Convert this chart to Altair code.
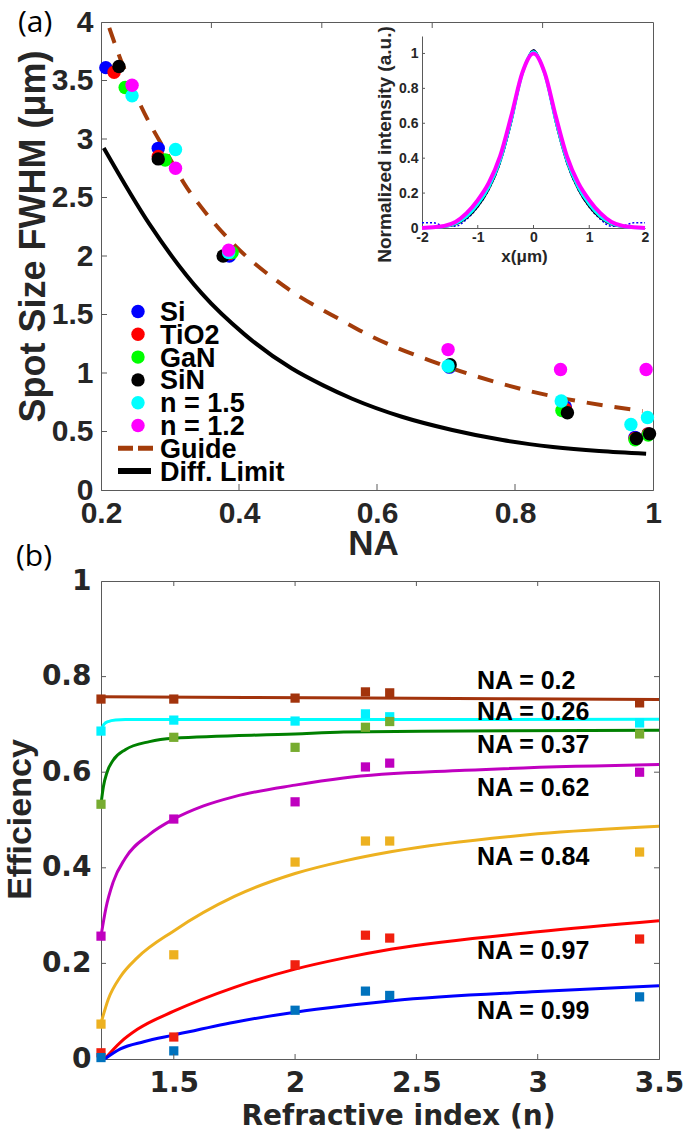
import altair as alt
import pandas as pd

# ---------------- Panel (a) data ----------------
materials = ["Si", "TiO2", "GaN", "SiN", "n = 1.5", "n = 1.2"]
mat_colors = ["#0000FF", "#FF0000", "#00FF00", "#000000", "#00FFFF", "#FF00FF"]

na_si = [0.207, 0.283, 0.386, 0.705, 0.873, 0.974, 0.993]
fwhm_si = [3.61, 2.92, 2.00, 1.05, 0.71, 0.45, 0.48]
na_tio2 = [0.219, 0.283, 0.386, 0.705, 0.873, 0.974, 0.993]
fwhm_tio2 = [3.57, 2.85, 2.02, 1.06, 0.69, 0.44, 0.48]
na_gan = [0.235, 0.293, 0.390, 0.705, 0.868, 0.974, 0.993]
fwhm_gan = [3.44, 2.82, 2.03, 1.06, 0.68, 0.43, 0.47]
na_sin = [0.226, 0.283, 0.377, 0.706, 0.876, 0.976, 0.995]
fwhm_sin = [3.62, 2.83, 2.00, 1.07, 0.66, 0.44, 0.48]
na_n15 = [0.245, 0.308, 0.385, 0.703, 0.867, 0.968, 0.992]
fwhm_n15 = [3.37, 2.91, 2.03, 1.06, 0.76, 0.56, 0.62]
na_n12 = [0.245, 0.308, 0.385, 0.703, 0.866, 0.990]
fwhm_n12 = [3.46, 2.75, 2.05, 1.20, 1.03, 1.03]

guide_na = [0.212, 0.229, 0.258, 0.306, 0.321, 0.345, 0.389, 0.466, 0.553, 0.585, 0.680, 0.821, 0.985]
guide_fwhm = [3.95, 3.67, 3.28, 2.77, 2.615, 2.42, 2.12, 1.74, 1.436, 1.333, 1.10, 0.846, 0.675]

diff_na = [0.204, 0.270, 0.346, 0.408, 0.476, 0.522, 0.564, 0.636, 0.709, 0.782, 0.855, 0.922, 0.990]
diff_fwhm = [2.923, 2.274, 1.680, 1.330, 1.040, 0.894, 0.780, 0.626, 0.513, 0.427, 0.368, 0.333, 0.310]

legend_labels = ["Si", "TiO2", "GaN", "SiN", "n = 1.5", "n = 1.2", "Guide", "Diff. Limit"]

# top-edge tick marks of panel (a), as placed in the figure
top_ticks_a = [0.36, 0.52, 0.68, 0.84]

# inset (normalized intensity profiles)
inset_x = [-2.0, -1.8, -1.6, -1.4, -1.2, -1.0, -0.8, -0.6, -0.4, -0.2, 0.0,
           0.2, 0.4, 0.6, 0.8, 1.0, 1.2, 1.4, 1.6, 1.8, 2.0]
inset_blue = [0.030, 0.030, 0.012, 0.010, 0.050, 0.120, 0.220, 0.370, 0.600, 0.880, 1.020,
              0.880, 0.600, 0.370, 0.220, 0.120, 0.050, 0.010, 0.012, 0.030, 0.030]
inset_black = [0.000, 0.000, 0.005, 0.018, 0.055, 0.120, 0.220, 0.370, 0.600, 0.880, 1.020,
               0.880, 0.600, 0.370, 0.220, 0.120, 0.055, 0.018, 0.005, 0.000, 0.000]
inset_cyan = [0.000, 0.003, 0.008, 0.025, 0.065, 0.135, 0.235, 0.385, 0.615, 0.885, 1.010,
              0.885, 0.615, 0.385, 0.235, 0.135, 0.065, 0.025, 0.008, 0.003, 0.000]
inset_mag = [0.000, 0.004, 0.012, 0.035, 0.085, 0.160, 0.260, 0.410, 0.640, 0.890, 1.000,
             0.890, 0.640, 0.410, 0.260, 0.160, 0.085, 0.035, 0.012, 0.004, 0.000]

# ---------------- Panel (b) data ----------------
n_sim = [1.2, 1.5, 2.0, 2.29, 2.39, 3.42]
na_names = ["NA = 0.2", "NA = 0.26", "NA = 0.37", "NA = 0.62", "NA = 0.84", "NA = 0.97", "NA = 0.99"]
eff_sim = [
    [0.753, 0.753, 0.755, 0.768, 0.766, 0.745],
    [0.686, 0.709, 0.707, 0.722, 0.716, 0.703],
    [0.533, 0.673, 0.652, 0.694, 0.706, 0.680],
    [0.257, 0.502, 0.538, 0.611, 0.619, 0.600],
    [0.073, 0.218, 0.412, 0.456, 0.456, 0.433],
    [0.013, 0.046, 0.197, 0.259, 0.253, 0.251],
    [0.003, 0.017, 0.102, 0.142, 0.133, 0.130],
]
fit_n = [
    [1.2, 2.3, 3.5],
    [1.2, 1.212, 1.23, 1.26, 1.3, 1.5, 2.0, 3.5],
    [1.2, 1.21, 1.225, 1.25, 1.3, 1.4, 1.5, 2.0, 2.2, 2.7, 3.5],
    [1.2, 1.22, 1.25, 1.3, 1.4, 1.5, 1.62, 1.75, 2.0, 2.2, 2.7, 3.5],
    [1.2, 1.23, 1.28, 1.35, 1.5, 1.75, 2.0, 2.2, 2.4, 3.0, 3.5],
    [1.215, 1.28, 1.35, 1.5, 1.75, 2.0, 2.2, 2.4, 3.0, 3.5],
    [1.215, 1.28, 1.376, 1.5, 1.75, 2.0, 2.2, 2.4, 3.0, 3.5],
]
fit_eff = [
    [0.758, 0.755, 0.752],
    [0.686, 0.700, 0.706, 0.709, 0.710, 0.710, 0.710, 0.711],
    [0.533, 0.570, 0.600, 0.625, 0.647, 0.664, 0.671, 0.680, 0.684, 0.686, 0.688],
    [0.257, 0.315, 0.370, 0.420, 0.470, 0.502, 0.529, 0.549, 0.573, 0.588, 0.604, 0.616],
    [0.075, 0.125, 0.172, 0.212, 0.268, 0.340, 0.388, 0.414, 0.434, 0.471, 0.487],
    [0.000, 0.035, 0.062, 0.100, 0.150, 0.188, 0.211, 0.230, 0.266, 0.289],
    [0.000, 0.021, 0.036, 0.050, 0.077, 0.098, 0.111, 0.122, 0.141, 0.153],
]
label_n = [2.75, 2.75, 2.75, 2.75, 2.75, 2.75, 2.75]
label_eff = [0.791, 0.726, 0.656, 0.566, 0.422, 0.226, 0.101]

line_colors = ["#A2330C", "#00FFFF", "#008000", "#C000C0", "#EDB120", "#FF0000", "#0000FF"]
sq_colors = ["#A2330C", "#00F2FF", "#77AC30", "#BF00BF", "#EDB120", "#F0200F", "#0072BD"]

# ---------------- styling ----------------
FONT = "Liberation Sans"
DJ = "DejaVu Sans"
TXT = "#262626"
AXC = "#5a5a5a"
WA, HA = 552, 468
WB, HB = 558, 478
LBL = "'' + datum.value"

# ---------------- Panel (a) ----------------
xA = alt.X("NA:Q", scale=alt.Scale(domain=[0.2, 1], nice=False, zero=False),
           axis=alt.Axis(orient="bottom", values=[0.2, 0.4, 0.6, 0.8, 1], labelExpr=LBL,
                         ticks=False, tickSize=0, grid=False, domainColor=AXC,
                         labelFont=FONT, labelFontWeight="bold", labelFontSize=30,
                         labelColor=TXT, labelPadding=8, labelFlush=False, labelOverlap=False,
                         title="NA", titleFont=FONT, titleFontWeight="bold", titleFontSize=35,
                         titleColor=TXT, titleX=272, titleY=64, titleBaseline="alphabetic",
                         titleAlign="center"))
yA = alt.Y("FWHM:Q", scale=alt.Scale(domain=[0, 4], nice=False),
           axis=alt.Axis(orient="left", values=[0, 0.5, 1, 1.5, 2, 2.5, 3, 3.5, 4], labelExpr=LBL,
                         ticks=False, tickSize=0, grid=False, domainColor=AXC,
                         labelFont=FONT, labelFontWeight="bold", labelFontSize=30,
                         labelColor=TXT, labelPadding=8, labelFlush=False, labelOverlap=False,
                         title="Spot Size FWHM (μm)", titleFont=FONT, titleFontWeight="bold",
                         titleFontSize=36, titleColor=TXT, titleX=-57, titleY=214,
                         titleAngle=270, titleBaseline="alphabetic", titleAlign="center"))

rows = []
for m, xs, ys in zip(materials, [na_si, na_tio2, na_gan, na_sin, na_n15, na_n12],
                     [fwhm_si, fwhm_tio2, fwhm_gan, fwhm_sin, fwhm_n15, fwhm_n12]):
    for a, b in zip(xs, ys):
        rows.append({"mat": m, "NA": a, "FWHM": b})
df_pts = pd.DataFrame(rows)

diff_line = alt.Chart(pd.DataFrame({"NA": diff_na, "FWHM": diff_fwhm})).mark_line(
    color="#000000", strokeWidth=4, interpolate="monotone").encode(x=xA, y=yA)
guide_line = alt.Chart(pd.DataFrame({"NA": guide_na, "FWHM": guide_fwhm})).mark_line(
    color="#A33C0A", strokeWidth=4, strokeDash=[16, 12], interpolate="monotone").encode(x=xA, y=yA)
points = alt.Chart(df_pts).mark_circle(size=180, opacity=1).encode(
    x=xA, y=yA,
    color=alt.Color("mat:N", scale=alt.Scale(domain=materials, range=mat_colors), legend=None))

tickA_left = alt.Chart(pd.DataFrame({"FWHM": [0.5, 1, 1.5, 2, 2.5, 3, 3.5]})).mark_rule(
    color=AXC, strokeWidth=1).encode(y=yA, x=alt.value(0), x2=alt.value(6))
tickA_bottom = alt.Chart(pd.DataFrame({"NA": [0.4, 0.6, 0.8]})).mark_rule(
    color=AXC, strokeWidth=1).encode(x=xA, y=alt.value(HA), y2=alt.value(HA - 6))
tickA_top = alt.Chart(pd.DataFrame({"NA": top_ticks_a})).mark_rule(
    color=AXC, strokeWidth=1).encode(x=xA, y=alt.value(0), y2=alt.value(6))

legend_layers = []
for i, lab in enumerate(legend_labels):
    ry = 289.5 + 22.8 * i
    one = pd.DataFrame({"t": [lab]})
    if i < 6:
        legend_layers.append(alt.Chart(one).mark_circle(size=180, opacity=1, color=mat_colors[i]).encode(
            x=alt.value(37), y=alt.value(ry)))
    elif i == 6:
        legend_layers.append(alt.Chart(one).mark_rule(color="#A33C0A", strokeWidth=5, strokeDash=[15, 5]).encode(
            x=alt.value(17), x2=alt.value(52), y=alt.value(ry)))
    else:
        legend_layers.append(alt.Chart(one).mark_rule(color="#000000", strokeWidth=6).encode(
            x=alt.value(17), x2=alt.value(50), y=alt.value(ry)))
    legend_layers.append(alt.Chart(one).mark_text(
        align="left", baseline="middle", font=FONT, fontWeight="bold", fontSize=27, color="#000000").encode(
        x=alt.value(59), y=alt.value(ry + 1.5), text="t:N"))

label_a = alt.Chart(pd.DataFrame({"t": ["(a)"]})).mark_text(
    align="left", baseline="middle", font="Open Sans", fontSize=30, color="#000000").encode(
    x=alt.value(-83), y=alt.value(1), text="t:N")

mainA = alt.layer(diff_line, guide_line, points, tickA_left, tickA_bottom, tickA_top,
                  *legend_layers, label_a)

# inset
ix = alt.X("x:Q", scale=alt.Scale(domain=[-2, 2], range=[321, 544], nice=False, zero=False),
           axis=alt.Axis(orient="bottom", offset=-262, values=[-2, -1, 0, 1, 2], labelExpr=LBL,
                         ticks=False, tickSize=0, grid=False, domainColor=AXC,
                         labelFont=FONT, labelFontWeight="bold", labelFontSize=14, labelColor=TXT,
                         labelPadding=2, labelFlush=False, labelOverlap=False,
                         title="x(μm)", titleFont=FONT, titleFontWeight="bold", titleFontSize=17,
                         titleColor=TXT, titleX=423, titleY=33, titleBaseline="alphabetic",
                         titleAlign="center"))
iy = alt.Y("y:Q", scale=alt.Scale(domain=[0, 1.1], range=[206, 14], nice=False),
           axis=alt.Axis(orient="left", offset=-321, values=[0, 0.2, 0.4, 0.6, 0.8, 1], labelExpr=LBL,
                         ticks=False, tickSize=0, grid=False, domainColor=AXC,
                         labelFont=FONT, labelFontWeight="bold", labelFontSize=14, labelColor=TXT,
                         labelPadding=4, labelFlush=False, labelOverlap=False,
                         title="Normalized intensity (a.u.)", titleFont=FONT, titleFontWeight="bold",
                         titleFontSize=19, titleColor=TXT, titleX=-32, titleY=122, titleAngle=270,
                         titleBaseline="alphabetic", titleAlign="center"))

inset_layers = []
for ys, col, w, dash in [(inset_blue, "#0000FF", 1.5, [2, 2]), (inset_black, "#000000", 1.5, None),
                         (inset_cyan, "#00FFFF", 3, None), (inset_mag, "#FF00FF", 4, None)]:
    kw = dict(color=col, strokeWidth=w, interpolate="monotone")
    if dash:
        kw["strokeDash"] = dash
    inset_layers.append(alt.Chart(pd.DataFrame({"x": inset_x, "y": ys})).mark_line(**kw).encode(x=ix, y=iy))
inset_layers.append(alt.Chart(pd.DataFrame({"y": [0.2, 0.4, 0.6, 0.8, 1]})).mark_rule(color=AXC).encode(
    y=iy, x=alt.value(321), x2=alt.value(324)))
inset_layers.append(alt.Chart(pd.DataFrame({"x": [-1, 0, 1]})).mark_rule(color=AXC).encode(
    x=ix, y=alt.value(206), y2=alt.value(203)))
insetA = alt.layer(*inset_layers)

panelA = alt.layer(mainA, insetA).resolve_scale(x="independent", y="independent").properties(
    width=WA, height=HA)

# ---------------- Panel (b) ----------------
xB = alt.X("n:Q", scale=alt.Scale(domain=[1.2, 3.5], nice=False, zero=False),
           axis=alt.Axis(orient="bottom", values=[1.5, 2, 2.5, 3, 3.5], labelExpr=LBL,
                         ticks=False, tickSize=0, grid=False, domainColor=AXC,
                         labelFont=DJ, labelFontWeight="bold", labelFontSize=28, labelColor=TXT,
                         labelPadding=10, labelFlush=False, labelOverlap=False,
                         title="Refractive index (n)", titleFont=DJ, titleFontWeight="bold",
                         titleFontSize=28, titleColor=TXT, titleX=297, titleY=65,
                         titleBaseline="alphabetic", titleAlign="center"))
yB = alt.Y("eff:Q", scale=alt.Scale(domain=[0, 1], nice=False),
           axis=alt.Axis(orient="left", values=[0, 0.2, 0.4, 0.6, 0.8, 1], labelExpr=LBL,
                         ticks=False, tickSize=0, grid=False, domainColor=AXC,
                         labelFont=DJ, labelFontWeight="bold", labelFontSize=28, labelColor=TXT,
                         labelPadding=10, labelFlush=False, labelOverlap=False,
                         title="Efficiency", titleFont=FONT, titleFontWeight="bold",
                         titleFontSize=34, titleColor=TXT, titleX=-71, titleY=238, titleAngle=270,
                         titleBaseline="alphabetic", titleAlign="center"))

line_layers = []
sq_layers = []
for k in range(len(na_names)):
    line_layers.append(alt.Chart(pd.DataFrame({"n": fit_n[k], "eff": fit_eff[k]})).mark_line(
        color=line_colors[k], strokeWidth=3, interpolate="monotone").encode(x=xB, y=yB))
    sq_layers.append(alt.Chart(pd.DataFrame({"n": n_sim, "eff": eff_sim[k]})).mark_square(
        size=85, opacity=1, color=sq_colors[k]).encode(x=xB, y=yB))

na_text = alt.Chart(pd.DataFrame({"n": label_n, "eff": label_eff, "t": na_names})).mark_text(
    align="left", baseline="middle", font=FONT, fontWeight="bold", fontSize=25, color="#000000").encode(
    x=xB, y=yB, text="t:N")

yt = pd.DataFrame({"eff": [0.2, 0.4, 0.6, 0.8]})
xt = pd.DataFrame({"n": [1.5, 2, 2.5, 3]})
ticksB = [
    alt.Chart(yt).mark_rule(color=AXC).encode(y=yB, x=alt.value(0), x2=alt.value(5)),
    alt.Chart(yt).mark_rule(color=AXC).encode(y=yB, x=alt.value(WB), x2=alt.value(WB - 5)),
    alt.Chart(xt).mark_rule(color=AXC).encode(x=xB, y=alt.value(HB), y2=alt.value(HB - 5)),
    alt.Chart(xt).mark_rule(color=AXC).encode(x=xB, y=alt.value(0), y2=alt.value(5)),
]

label_b = alt.Chart(pd.DataFrame({"t": ["(b)"]})).mark_text(
    align="left", baseline="middle", font="Open Sans", fontSize=30, color="#000000").encode(
    x=alt.value(-85), y=alt.value(-24), text="t:N")

panelB = alt.layer(*line_layers, *sq_layers, na_text, *ticksB, label_b).properties(width=WB, height=HB)

chart = alt.vconcat(panelA, panelB, spacing=91, bounds="flush").properties(
    padding={"left": 2, "top": 6, "right": 0, "bottom": 0}, background="white"
).configure_view(stroke=AXC, strokeWidth=1).configure_axis(grid=False)

chart.save("out.html", embed_options={"renderer": "svg", "actions": False})
